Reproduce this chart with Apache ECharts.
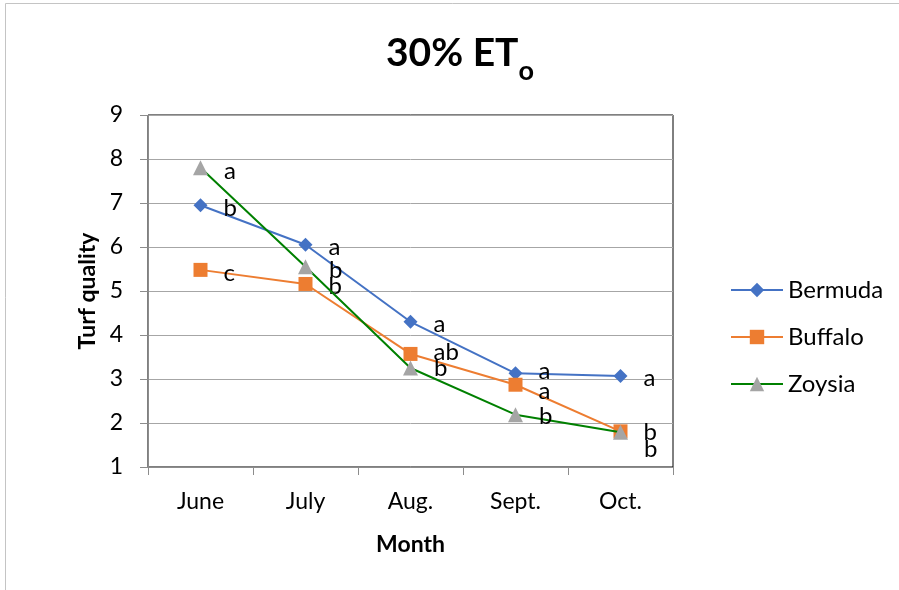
<!DOCTYPE html>
<html>
<head>
<meta charset="utf-8">
<script src="https://cdn.jsdelivr.net/npm/echarts@6/dist/echarts.min.js"></script>
<style>
  html, body { margin: 0; padding: 0; background: #fff; }
  #chart { width: 899px; height: 590px; }
</style>
</head>
<body>
<div id="chart"></div>
<script>
// Monthly turf quality scores under 30% ETo irrigation
const months = ['June', 'July', 'Aug.', 'Sept.', 'Oct.'];
const yTicks = [1, 2, 3, 4, 5, 6, 7, 8, 9];

const bermuda = [6.95, 6.05, 4.30, 3.13, 3.07];
const buffalo = [5.48, 5.16, 3.57, 2.87, 1.81];
const zoysia  = [7.80, 5.55, 3.25, 2.19, 1.79];

// Mean-separation letters shown beside each point
const bermudaLetters = ['b', 'a', 'a', 'a', 'a'];
const buffaloLetters = ['c', 'b', 'ab', 'a', 'b'];
const zoysiaLetters  = ['a', 'b', 'b', 'b', 'b'];

// Vertical nudges for the letters so overlapping ones stay readable
const bermudaNudge = [3, 2, 2, -2, 2];
const buffaloNudge = [3, 2, -2, 7, 1];
const zoysiaNudge  = [3, 3, 0, 2, 17];

const FONT = 'Lato, "Open Sans", sans-serif';

function withLetters(values, letters, nudge) {
  return values.map((v, i) => ({
    value: v,
    label: {
      show: true,
      position: 'right',
      distance: 16,
      offset: [0, nudge[i]],
      formatter: letters[i],
      color: '#000',
      fontFamily: FONT,
      fontSize: 24
    }
  }));
}

const chart = echarts.init(document.getElementById('chart'), null, { renderer: 'canvas' });

chart.setOption({
  animation: false,
  backgroundColor: '#fff',
  textStyle: { fontFamily: FONT },
  title: {
    text: '{m|30% ET}{s|o}',
    left: 455,
    textAlign: 'center',
    top: 29,
    textStyle: {
      rich: {
        m: { fontFamily: FONT, fontSize: 39, fontWeight: 'bold', color: '#000' },
        s: { fontFamily: FONT, fontSize: 27, fontWeight: 'bold', color: '#000', verticalAlign: 'bottom', padding: [0, 0, -12, 0] }
      }
    }
  },
  graphic: [{
    type: 'rect',
    shape: { x: 5.5, y: 3.5, width: 1000, height: 1000 },
    style: { fill: 'none', stroke: '#c4c4c4', lineWidth: 1 },
    silent: true,
    z: -10
  }],
  grid: {
    left: 148, top: 115, right: 226, bottom: 123,
    show: true,
    borderColor: '#000',
    borderWidth: 1,
    backgroundColor: 'transparent'
  },
  legend: {
    orient: 'vertical',
    left: 730,
    top: 278,
    padding: 0,
    itemWidth: 52,
    itemHeight: 18,
    itemGap: 23,
    textStyle: { fontFamily: FONT, fontSize: 24, color: '#000', lineHeight: 22 },
    data: ['Bermuda', 'Buffalo', 'Zoysia']
  },
  xAxis: {
    type: 'category',
    data: months,
    boundaryGap: true,
    name: 'Month',
    nameLocation: 'middle',
    nameGap: 66,
    nameTextStyle: { fontFamily: FONT, fontSize: 23, fontWeight: 'bold', color: '#000' },
    axisLine: { lineStyle: { color: '#8c8c8c', width: 1 } },
    axisTick: { show: true, length: 8, lineStyle: { color: '#8c8c8c' } },
    axisLabel: { margin: 23, fontFamily: FONT, fontSize: 23, color: '#000' },
    splitLine: { show: false }
  },
  yAxis: {
    type: 'value',
    min: yTicks[0],
    max: yTicks[yTicks.length - 1],
    interval: 1,
    name: 'Turf quality',
    nameLocation: 'middle',
    nameGap: 45,
    nameTextStyle: { fontFamily: FONT, fontSize: 23, fontWeight: 'bold', color: '#000' },
    axisLine: { show: true, lineStyle: { color: '#8c8c8c', width: 1 } },
    axisTick: { show: true, length: 8, lineStyle: { color: '#8c8c8c' } },
    axisLabel: { margin: 25, fontFamily: FONT, fontSize: 23, color: '#000' },
    splitLine: { show: true, lineStyle: { color: '#a6a6a6', width: 1 } }
  },
  series: [
    {
      name: 'Bermuda',
      type: 'line',
      data: withLetters(bermuda, bermudaLetters, bermudaNudge),
      symbol: 'diamond',
      symbolSize: 14,
      lineStyle: { color: '#4472C4', width: 2 },
      itemStyle: { color: '#4472C4' },
      z: 3
    },
    {
      name: 'Buffalo',
      type: 'line',
      data: withLetters(buffalo, buffaloLetters, buffaloNudge),
      symbol: 'rect',
      symbolSize: 14,
      lineStyle: { color: '#ED7D31', width: 2 },
      itemStyle: { color: '#ED7D31' },
      z: 4
    },
    {
      name: 'Zoysia',
      type: 'line',
      data: withLetters(zoysia, zoysiaLetters, zoysiaNudge),
      symbol: 'triangle',
      symbolSize: 15,
      lineStyle: { color: '#008000', width: 2 },
      itemStyle: { color: '#A5A5A5' },
      z: 5
    }
  ]
});
</script>
</body>
</html>
